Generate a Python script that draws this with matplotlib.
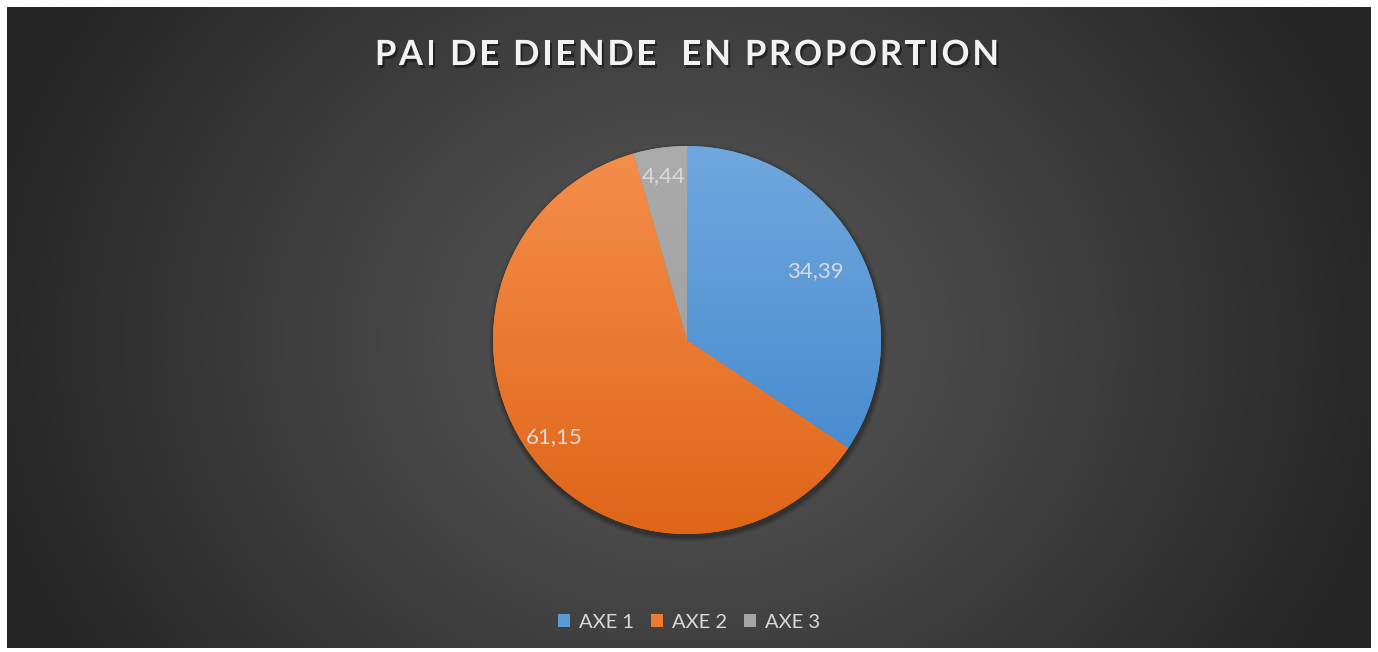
import numpy as np
import matplotlib
matplotlib.use("Agg")
import matplotlib.pyplot as plt
from matplotlib.patches import Patch
from matplotlib.colors import LinearSegmentedColormap
import matplotlib.patheffects as pe

# ---- data ----
categories = ["AXE 1", "AXE 2", "AXE 3"]
values = [34.39, 61.15, 4.44]
value_labels = ["34,39", "61,15", "4,44"]
title = "PAI DE DIENDE  EN PROPORTION"

# ---- styles ----
base_colors = ["#5b9bd5", "#ed7d31", "#a5a5a5"]
grad_top = ["#70a8de", "#f58f4c", "#ababab"]
grad_bot = ["#3d84cc", "#df6518", "#9c9c9c"]
label_dist = [0.75, 0.85, 0.855]
FONT = "Lato"

W, H = 1378, 652
fig = plt.figure(figsize=(W / 100, H / 100), dpi=100)
fig.patch.set_facecolor("white")
ax = fig.add_axes([0, 0, 1, 1])
ax.set_xlim(0, W)
ax.set_ylim(0, H)
ax.axis("off")

# background radial gradient inside white frame
x0, x1, y0, y1 = 7, 1371, 4, 645
cx, cy = 687, H - 340
xx, yy = np.meshgrid(np.linspace(x0, x1, 700), np.linspace(y0, y1, 330))
r = np.sqrt(((xx - cx) / 720.0) ** 2 + ((yy - cy) / 620.0) ** 2)
t = np.clip(r, 0, 1) ** 1.1
c_in = np.array([0x58, 0x58, 0x58]) / 255
c_out = np.array([0x25, 0x25, 0x25]) / 255
img = c_in[None, None, :] * (1 - t[..., None]) + c_out[None, None, :] * t[..., None]
ax.imshow(img, extent=(x0, x1, y0, y1), origin="lower", zorder=0, aspect="auto")

# pie
R = 194
for k, a in enumerate(np.linspace(0.10, 0.02, 6)):
    sh = plt.Circle((cx + 1, cy - 3), R + 1 + k, color="black", alpha=a, lw=0, zorder=1)
    ax.add_patch(sh)

wedges, _ = ax.pie(values, colors=base_colors, startangle=90, counterclock=False,
                   center=(cx, cy), radius=R, frame=False,
                   wedgeprops=dict(linewidth=0, zorder=2))
ax.set_xlim(0, W)
ax.set_ylim(0, H)
ax.set_aspect("auto")

gy = np.linspace(0, 1, 256).reshape(-1, 1)
for w, ct, cb in zip(wedges, grad_top, grad_bot):
    cmap = LinearSegmentedColormap.from_list("g", [cb, ct])
    im = ax.imshow(gy, cmap=cmap, extent=(cx - R, cx + R, cy - R, cy + R),
                   origin="lower", aspect="auto", zorder=3)
    im.set_clip_path(w)

for w, lab, d in zip(wedges, value_labels, label_dist):
    mid = np.deg2rad((w.theta1 + w.theta2) / 2)
    ax.text(cx + d * R * np.cos(mid), cy + d * R * np.sin(mid), lab,
            ha="center", va="center", fontsize=16, color="#d9d9d9",
            family=FONT, zorder=5)

# title with letter spacing
renderer = fig.canvas.get_renderer()
tprops = dict(fontsize=25, fontweight="bold", family=FONT)
def text_w(s):
    tt = ax.text(0, 0, s, **tprops)
    wpx = tt.get_window_extent(renderer).width
    tt.remove()
    return wpx
bar_w = text_w("|")
spacing = 2.7
offsets = []
for i in range(len(title)):
    offsets.append(text_w(title[:i] + "|") - bar_w + i * spacing)
total = text_w(title) + (len(title) - 1) * spacing
start = cx - total / 2
shadow = [pe.withSimplePatchShadow(offset=(1.5, -2), shadow_rgbFace="black", alpha=0.45)]
for ch, off in zip(title, offsets):
    if ch == " ":
        continue
    ax.text(start + off, H - 55, ch, ha="left", va="center", color="#f2f2f2",
            zorder=5, path_effects=shadow, **tprops)

# legend
handles = [Patch(facecolor=c, edgecolor="none") for c in base_colors]
fig.legend(handles, categories, loc="center", bbox_to_anchor=(0.5, 1 - 622 / H),
           ncol=3, frameon=False, handlelength=0.6, handleheight=0.6,
           handletextpad=0.45, columnspacing=0.85,
           prop=dict(family=FONT, size=14.5), labelcolor="#d9d9d9")

fig.savefig("out.png", dpi=100, facecolor="white")
